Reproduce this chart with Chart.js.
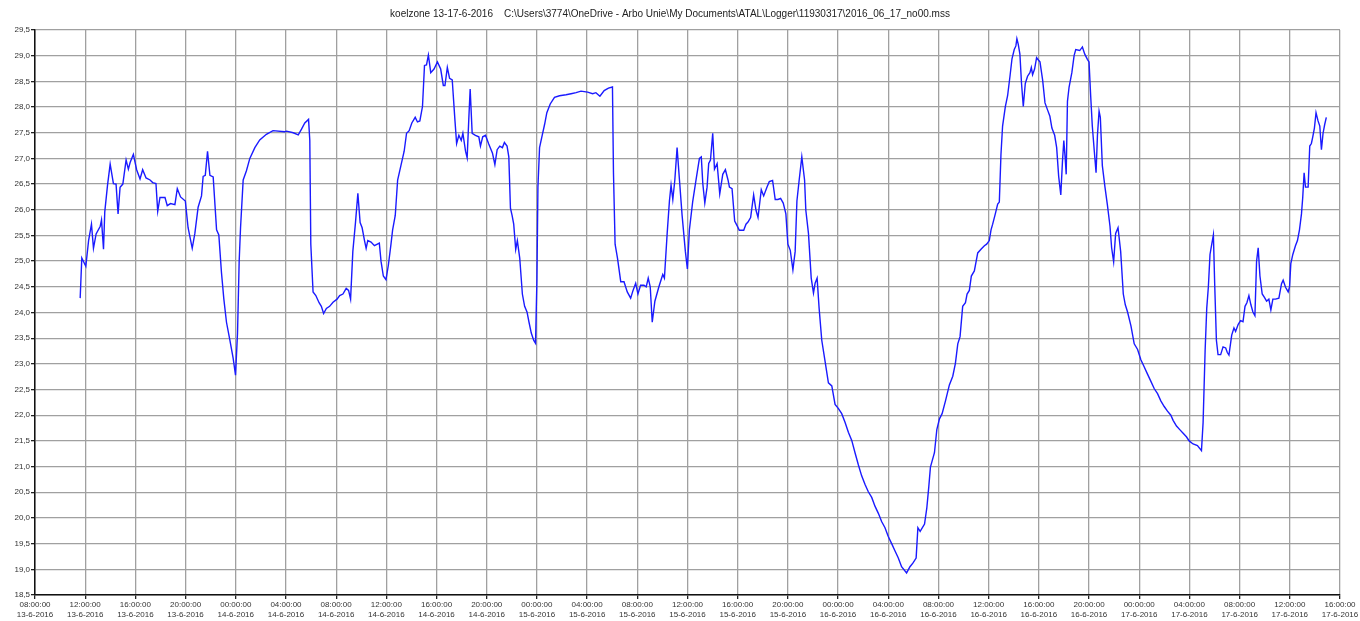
<!DOCTYPE html>
<html>
<head>
<meta charset="utf-8">
<script src="https://cdn.jsdelivr.net/npm/chart.js@4"></script>
<style>
  body { margin: 0; background: #fff; }
  #wrap { width: 1360px; height: 621px; }
</style>
</head>
<body>
<div id="wrap"><canvas id="chart" width="1360" height="621"></canvas></div>
<script>
const title = "koelzone 13-17-6-2016    C:\\Users\\3774\\OneDrive - Arbo Unie\\My Documents\\ATAL\\Logger\\11930317\\2016_06_17_no00.mss";

// hours since 13-6-2016 08:00:00
const hours = [
  3.6, 3.73, 4.05, 4.27, 4.5, 4.66, 4.87, 5.2, 5.3, 5.46, 5.56, 5.78, 5.99, 6.25, 6.46, 6.62, 6.78, 7.0,
  7.26, 7.44, 7.58, 7.84, 8.1, 8.37, 8.58, 8.85, 9.17, 9.38, 9.64, 9.78, 9.96, 10.36, 10.54, 10.8, 11.15,
  11.34, 11.6, 11.98, 12.2, 12.53, 12.74, 13.0, 13.27, 13.4, 13.57, 13.75, 13.94, 14.2, 14.47, 14.65,
  14.86, 15.05, 15.26, 15.53, 15.79, 15.98, 16.14, 16.27, 16.38, 16.59, 16.85, 17.12, 17.52, 17.91,
  18.44, 18.97, 19.9,
  20.05, 20.58, 20.98, 21.24, 21.5, 21.8, 21.9, 21.98, 22.16, 22.38, 22.64, 22.82, 23.0, 23.22, 23.48,
  23.75, 24.07, 24.28, 24.54, 24.8, 24.99, 25.15, 25.33, 25.54, 25.73, 25.91, 26.07, 26.26, 26.39, 26.52,
  26.78, 27.05, 27.44, 27.58, 27.76, 27.97, 28.16, 28.37, 28.5, 28.71, 28.9, 29.16, 29.42, 29.61, 29.82,
  30.03, 30.3, 30.48, 30.67, 30.88, 31.04, 31.2, 31.35, 31.54, 31.8, 32.07, 32.33, 32.54, 32.67, 32.86,
  33.04, 33.25, 33.47, 33.6, 33.78, 33.97, 34.1, 34.31, 34.44, 34.57, 34.68, 34.84, 35.1, 35.37, 35.5,
  35.68, 35.9, 36.16,
  36.46, 36.65, 36.83, 37.04, 37.25, 37.41, 37.62, 37.76, 37.89, 38.02, 38.15, 38.31, 38.44, 38.63,
  38.84, 39.02, 39.21, 39.37, 39.55, 39.74, 39.89, 40.0, 40.08, 40.21, 40.42, 40.61, 40.79, 41.06, 41.4,
  41.8, 42.32, 42.72, 43.12, 43.51, 44.04, 44.44, 44.7, 45.02, 45.36, 45.7, 46.02, 46.1, 46.23, 46.42,
  46.68, 46.94, 47.2, 47.47, 47.66, 47.87, 48.05, 48.26, 48.53, 48.71, 48.87, 49.03, 49.19, 49.4, 49.72,
  50.03, 50.16, 50.38, 50.56, 50.69, 50.83, 50.99, 51.17, 51.36, 51.57, 51.83, 51.99, 52.15, 52.42,
  52.68, 52.95, 53.1,
  53.22, 53.38, 53.56, 53.69, 53.83, 54.01, 54.15, 54.36, 54.57, 54.81, 55.02, 55.23, 55.34, 55.55,
  55.76, 55.95, 56.13, 56.48, 56.66, 56.82, 57.03, 57.27, 57.46, 57.62, 57.88, 58.07, 58.33, 58.52,
  58.78, 58.99, 59.2, 59.42, 59.63, 59.84, 60.0, 60.19, 60.4, 60.58, 60.72, 60.9, 61.11, 61.33, 61.43,
  61.64, 61.86, 62.04, 62.17, 62.33, 62.49, 62.7, 62.97, 63.23, 63.5, 63.76, 64.03, 64.29, 64.56, 64.82,
  65.09, 65.35, 65.62, 65.88, 66.15, 66.41, 66.68, 66.94, 67.21, 67.47, 67.74, 68.0, 68.27, 68.53, 68.8,
  69.06, 69.46, 69.73,
  69.96, 70.22, 70.36, 70.54, 70.89, 71.07, 71.23, 71.36, 71.68, 71.87, 72.08, 72.29, 72.56, 72.87,
  73.14, 73.35, 73.54, 73.72, 73.93, 74.15, 74.28, 74.46, 74.62, 74.86, 75.13, 75.39, 75.66, 75.84,
  76.05, 76.19, 76.32, 76.53, 76.72, 76.85, 76.98, 77.11, 77.33, 77.51, 77.7, 77.86, 78.04, 78.17, 78.25,
  78.36, 78.49, 78.62, 78.76, 78.92, 79.1, 79.29, 79.4, 79.5, 79.66, 79.82, 79.98, 80.09, 80.3, 80.49,
  80.7, 80.88, 81.04, 81.26, 81.42, 81.58, 81.75, 81.88, 81.99, 82.1, 82.18, 82.28, 82.41, 82.63, 82.81,
  82.94, 83.26, 83.47, 83.66, 83.87, 84.0, 84.13, 84.26, 84.42, 84.56, 84.67, 84.8, 84.9, 85.06, 85.27,
  85.46, 85.67, 85.8, 85.96, 86.12, 86.31, 86.52,
  86.73, 86.89, 87.07, 87.34, 87.6, 87.87, 88.13, 88.4, 88.66, 88.93, 89.19, 89.46, 89.72, 89.99, 90.25,
  90.52, 90.7, 90.97, 91.23, 91.5, 91.76, 91.98, 92.29, 92.64, 92.96, 93.09, 93.25, 93.38, 93.51, 93.64,
  93.78, 93.91, 94.02, 94.15, 94.28, 94.49, 94.68, 94.89, 95.02, 95.15, 95.37, 95.55, 95.68, 95.89,
  96.08, 96.27, 96.43, 96.58, 96.74, 96.9, 97.06, 97.22, 97.35, 97.48, 97.62, 97.8, 97.99, 98.15, 98.33,
  98.49, 98.65, 98.86, 99.13, 99.34, 99.47, 99.66, 99.87, 99.98, 100.08, 100.24, 100.45, 100.61, 100.77,
  100.93, 101.03, 101.14, 101.25, 101.46, 101.59, 101.72, 101.83, 101.96, 102.09, 102.25, 102.39,
  102.52, 102.65, 102.78, 102.91
];

// temperature in degrees C
const temperature = [
  24.28, 25.06, 24.9, 25.4, 25.72, 25.25, 25.53, 25.68, 25.8, 25.23, 25.96, 26.48, 26.89, 26.51, 26.5,
  25.92, 26.44, 26.5, 26.97, 26.79, 26.92, 27.08, 26.78, 26.6, 26.78, 26.62, 26.58, 26.53, 26.51, 25.97,
  26.24, 26.24, 26.08, 26.12, 26.1, 26.41, 26.25, 26.17, 25.65, 25.25, 25.54, 26.05, 26.27, 26.65, 26.67,
  27.14, 26.67, 26.64, 25.61, 25.51, 24.78, 24.26, 23.81, 23.46, 23.11, 22.78, 23.6, 24.99, 25.65, 26.58,
  26.76, 27.0, 27.21, 27.36, 27.47, 27.54, 27.52,
  27.53, 27.5, 27.46, 27.57, 27.69, 27.76, 27.35, 25.33, 24.4, 24.33, 24.19, 24.12, 23.98, 24.08, 24.12,
  24.2, 24.26, 24.33, 24.36, 24.47, 24.43, 24.26, 25.19, 25.75, 26.32, 25.75, 25.65, 25.4, 25.25, 25.4,
  25.37, 25.3, 25.35, 24.99, 24.71, 24.64, 24.92, 25.33, 25.61, 25.89, 26.58, 26.86, 27.14, 27.49, 27.54,
  27.69, 27.8, 27.71, 27.73, 28.01, 28.81, 28.82, 29.01, 28.67, 28.74, 28.88, 28.74, 28.42, 28.42, 28.77,
  28.56, 28.53, 27.73, 27.29, 27.45, 27.35, 27.49, 27.14, 27.01, 27.76, 28.35, 27.49, 27.45, 27.42, 27.24,
  27.42, 27.45, 27.28,
  27.1, 26.88, 27.17, 27.24, 27.21, 27.31, 27.24, 27.03, 26.03, 25.89, 25.72, 25.23, 25.4, 25.06, 24.36,
  24.12, 24.01, 23.81, 23.6, 23.46, 23.4, 24.64, 26.44, 27.21, 27.45, 27.66, 27.89, 28.06, 28.19, 28.22,
  28.24, 28.26, 28.28, 28.31, 28.29, 28.26, 28.28, 28.21, 28.32, 28.37, 28.39, 26.72, 25.33, 25.06, 24.6,
  24.6, 24.4, 24.28, 24.43, 24.57, 24.36, 24.53, 24.53, 24.5, 24.67, 24.5, 23.81, 24.22, 24.5, 24.74,
  24.67, 25.54, 26.17, 26.48, 26.2, 26.58, 27.21, 26.58, 25.89, 25.19, 24.85, 25.61, 26.17, 26.58, 27.0,
  27.03,
  26.51, 26.13, 26.44, 26.9, 26.97, 27.49, 26.79, 26.9, 26.31, 26.69, 26.78, 26.58, 26.44, 26.41, 25.78,
  25.69, 25.6, 25.6, 25.72, 25.76, 25.85, 26.29, 25.99, 25.85, 26.39, 26.27, 26.44, 26.55, 26.57, 26.2,
  26.2, 26.22, 26.13, 25.92, 25.33, 25.21, 24.83, 25.19, 26.17, 26.58, 27.03, 26.58, 25.99, 25.54, 24.67,
  24.38, 24.57, 24.67, 24.08, 23.46, 23.04, 22.63, 22.57, 22.21, 22.13, 22.03, 21.86, 21.67, 21.51, 21.27,
  21.03, 20.82, 20.65, 20.51, 20.4, 20.23, 20.09, 19.93, 19.81, 19.64, 19.5, 19.36, 19.22, 19.05, 18.93,
  19.05,
  19.12, 19.22, 19.81, 19.74, 19.88, 20.19, 20.61, 20.99, 21.27, 21.72, 21.93, 22.03, 22.28, 22.59, 22.76,
  23.01, 23.39, 23.53, 24.12, 24.19, 24.36, 24.43, 24.71, 24.81, 25.16, 25.23, 25.3, 25.33, 25.4, 25.61,
  25.72, 25.92, 26.11, 26.15, 27.07, 27.63, 28.01, 28.22, 28.6, 28.94, 29.12, 29.19, 29.33, 29.22, 29.03,
  28.46, 28.01, 28.46, 28.6, 28.67, 28.77, 28.63, 28.74, 28.96, 28.91, 28.88, 28.53, 28.08, 27.94, 27.82,
  27.59, 27.45, 27.21, 26.65, 26.29, 26.93, 27.35, 27.0, 26.69, 28.11, 28.39, 28.67, 29.0, 29.12, 29.1,
  29.17, 29.03, 28.93, 28.88, 28.22, 27.63, 27.14, 26.72, 27.45, 27.92, 27.8, 26.86, 26.44, 26.1, 25.68,
  25.26, 24.99, 25.54, 25.65, 25.19,
  24.36, 24.15, 24.01, 23.74, 23.39, 23.28, 23.08, 22.94, 22.8, 22.66, 22.52, 22.42, 22.28, 22.17, 22.08,
  22.0, 21.9, 21.79, 21.72, 21.65, 21.58, 21.5, 21.44, 21.41, 21.31, 21.86, 23.25, 24.08, 24.5, 25.13,
  25.33, 25.51, 24.5, 23.46, 23.18, 23.18, 23.33, 23.31, 23.22, 23.17, 23.56, 23.7, 23.63, 23.77, 23.84,
  23.82, 24.12, 24.19, 24.33, 24.15, 24.01, 23.94, 24.99, 25.26, 24.71, 24.36, 24.29, 24.22, 24.26,
  24.05, 24.26, 24.26, 24.28, 24.56, 24.63, 24.49, 24.4, 24.5, 24.95, 25.13, 25.3, 25.4, 25.61, 25.92,
  26.24, 26.72, 26.44, 26.44, 27.24, 27.29, 27.42, 27.59, 27.89, 27.73, 27.63, 27.17, 27.49, 27.66, 27.8
];

const startDay = 13;
const startHour = 8;
const tickFont = { family: "Liberation Sans", size: 8 };

function tickLabel(h) {
  const total = startHour + h;
  const hh = String(total % 24).padStart(2, "0");
  const day = startDay + Math.floor(total / 24);
  return [hh + ":00:00", day + "-6-2016"];
}

const points = hours.map((h, i) => ({ x: h, y: temperature[i] }));

new Chart(document.getElementById("chart").getContext("2d"), {
  type: "line",
  data: {
    datasets: [{
      data: points,
      borderColor: "#1a1aff",
      borderWidth: 1.4,
      pointRadius: 0,
      tension: 0,
      fill: false
    }]
  },
  options: {
    responsive: false,
    animation: false,
    layout: { padding: { left: 0, right: 20, top: 0, bottom: 0 } },
    plugins: {
      legend: { display: false },
      tooltip: { enabled: false },
      title: {
        display: true,
        text: title,
        color: "#222",
        font: { family: "Liberation Sans", size: 10, weight: "normal", lineHeight: 1.2 },
        padding: { top: 8, bottom: 10 }
      }
    },
    scales: {
      x: {
        type: "linear",
        min: 0,
        max: 104,
        afterFit: s => { s.height = 26; },
        ticks: {
          stepSize: 4,
          autoSkip: false,
          maxRotation: 0,
          padding: 1,
          color: "#333",
          font: tickFont,
          callback: v => tickLabel(v)
        },
        grid: { color: "#a0a0a0", lineWidth: 1.3, tickLength: 4, tickColor: "#222" },
        border: { color: "#111", width: 1.5 }
      },
      y: {
        min: 18.5,
        max: 29.5,
        afterFit: s => { s.width = 35; },
        ticks: {
          stepSize: 0.5,
          padding: 1,
          color: "#333",
          font: tickFont,
          callback: v => v.toFixed(1).replace(".", ",")
        },
        grid: { color: "#a0a0a0", lineWidth: 1.3, tickLength: 4, tickColor: "#222" },
        border: { color: "#111", width: 1.5 }
      }
    }
  }
});
</script>
</body>
</html>
